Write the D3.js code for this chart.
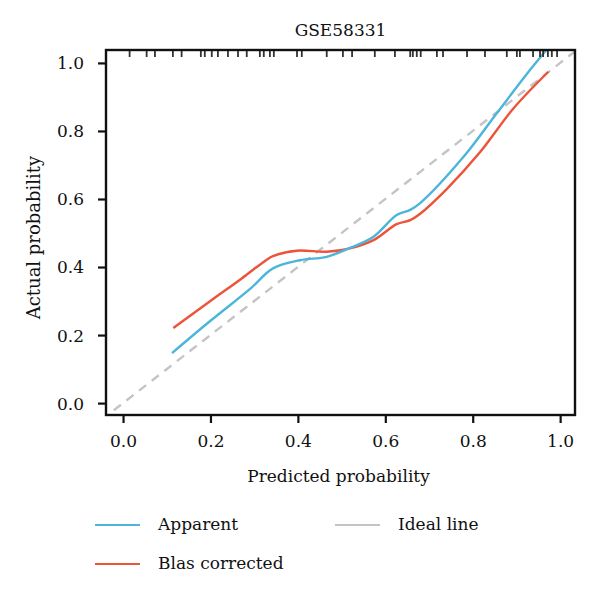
<!DOCTYPE html>
<html>
<head>
<meta charset="utf-8">
<script src="https://cdn.jsdelivr.net/npm/d3@7"></script>
<style>
  body { margin: 0; background: #fff; }
  text { font-family: "DejaVu Serif", serif; fill: #111; }
</style>
</head>
<body>
<svg id="chart" width="600" height="592"></svg>
<script>
// calibration curve for GSE58331
var rugValues = [0.015, 0.054, 0.073, 0.114, 0.134, 0.178, 0.187, 0.203, 0.217, 0.240,
  0.263, 0.283, 0.313, 0.322, 0.336, 0.345, 0.398, 0.409, 0.466, 0.503,
  0.524, 0.576, 0.622, 0.657, 0.663, 0.672, 0.681, 0.718, 0.732, 0.787,
  0.828, 0.878, 0.901, 0.908, 0.938, 0.954, 0.961, 0.972, 0.981, 0.993];

var apparentX = [0.112, 0.2, 0.29, 0.343, 0.405, 0.466, 0.519, 0.573, 0.626, 0.657, 0.679, 0.779, 0.855, 0.931, 0.970];
var apparentY = [0.147, 0.242, 0.335, 0.396, 0.420, 0.430, 0.456, 0.489, 0.553, 0.568, 0.587, 0.724, 0.852, 0.979, 1.040];

var biasX = [0.115, 0.206, 0.27, 0.328, 0.343, 0.397, 0.466, 0.519, 0.573, 0.626, 0.657, 0.679, 0.741, 0.817, 0.893, 0.973];
var biasY = [0.221, 0.306, 0.365, 0.421, 0.432, 0.448, 0.445, 0.455, 0.479, 0.526, 0.538, 0.556, 0.630, 0.738, 0.866, 0.974];

var ticks = [0, 0.2, 0.4, 0.6, 0.8, 1.0];
var legendItems = [
  {label: 'Apparent', color: '#4cb5d9', col: 0, row: 0},
  {label: 'Ideal line', color: '#c4c4c4', col: 1, row: 0},
  {label: 'Blas corrected', color: '#ec5338', col: 0, row: 1}
];

var svg = d3.select('#chart');
var box = {left: 106, right: 575, top: 50, bottom: 415};

var x = d3.scaleLinear().domain([-0.039, 1.034]).range([box.left, box.right]);
var y = d3.scaleLinear().domain([-0.035, 1.038]).range([box.bottom, box.top]);

svg.append('defs').append('clipPath').attr('id', 'plotclip')
  .append('rect')
  .attr('x', box.left).attr('y', box.top)
  .attr('width', box.right - box.left).attr('height', box.bottom - box.top);

var plot = svg.append('g').attr('clip-path', 'url(#plotclip)');

// ideal line
plot.append('line')
  .attr('x1', x(-0.05)).attr('y1', y(-0.05))
  .attr('x2', x(1.1)).attr('y2', y(1.1))
  .attr('stroke', '#c4c4c4')
  .attr('stroke-width', 2.4)
  .attr('stroke-dasharray', '9,7');

var line = d3.line()
  .x(d => x(d[0]))
  .y(d => y(d[1]))
  .curve(d3.curveCatmullRom.alpha(0.5));

plot.append('path')
  .datum(d3.zip(biasX, biasY))
  .attr('d', line)
  .attr('fill', 'none')
  .attr('stroke', '#ec5338')
  .attr('stroke-width', 2.4);

plot.append('path')
  .datum(d3.zip(apparentX, apparentY))
  .attr('d', line)
  .attr('fill', 'none')
  .attr('stroke', '#4cb5d9')
  .attr('stroke-width', 2.4);

// rug along top
plot.selectAll('.rug')
  .data(rugValues)
  .enter().append('line')
  .attr('class', 'rug')
  .attr('x1', d => x(d)).attr('x2', d => x(d))
  .attr('y1', box.top).attr('y2', box.top + 7)
  .attr('stroke', '#333')
  .attr('stroke-width', 1.8);

// frame
svg.append('rect')
  .attr('x', box.left).attr('y', box.top)
  .attr('width', box.right - box.left).attr('height', box.bottom - box.top)
  .attr('fill', 'none')
  .attr('stroke', '#111')
  .attr('stroke-width', 2.4);

// axes
var xAxis = svg.append('g')
  .attr('transform', 'translate(0,' + box.bottom + ')')
  .call(d3.axisBottom(x).tickValues(ticks).tickFormat(d3.format('.1f')).tickSize(8).tickPadding(12));
var yAxis = svg.append('g')
  .attr('transform', 'translate(' + box.left + ',0)')
  .call(d3.axisLeft(y).tickValues(ticks).tickFormat(d3.format('.1f')).tickSize(8).tickPadding(14));

[xAxis, yAxis].forEach(function(a) {
  a.select('.domain').remove();
  a.selectAll('.tick line').attr('stroke', '#111').attr('stroke-width', 2.2);
  a.selectAll('.tick text').attr('font-family', '"DejaVu Serif", serif').attr('font-size', 17).attr('fill', '#111');
});
yAxis.selectAll('.tick text').attr('dy', '0.35em');

// titles
svg.append('text')
  .attr('x', (box.left + box.right) / 2).attr('y', 36)
  .attr('text-anchor', 'middle')
  .attr('font-size', 17)
  .text('GSE58331');

svg.append('text')
  .attr('x', (box.left + box.right) / 2 - 2).attr('y', 482)
  .attr('text-anchor', 'middle')
  .attr('font-size', 17)
  .text('Predicted probability');

svg.append('text')
  .attr('transform', 'translate(40,' + ((box.top + box.bottom) / 2 + 5) + ') rotate(-90)')
  .attr('text-anchor', 'middle')
  .attr('font-size', 18)
  .text('Actual probability');

// legend
var legend = svg.append('g');
var item = legend.selectAll('.item')
  .data(legendItems)
  .enter().append('g')
  .attr('class', 'item')
  .attr('transform', d => 'translate(' + (95 + d.col * 240) + ',' + (525 + d.row * 39) + ')');
item.append('line')
  .attr('x1', 0).attr('x2', 45)
  .attr('stroke', d => d.color)
  .attr('stroke-width', 2);
item.append('text')
  .attr('x', 63).attr('dy', '0.32em')
  .attr('font-size', 17)
  .text(d => d.label);
</script>
</body>
</html>
